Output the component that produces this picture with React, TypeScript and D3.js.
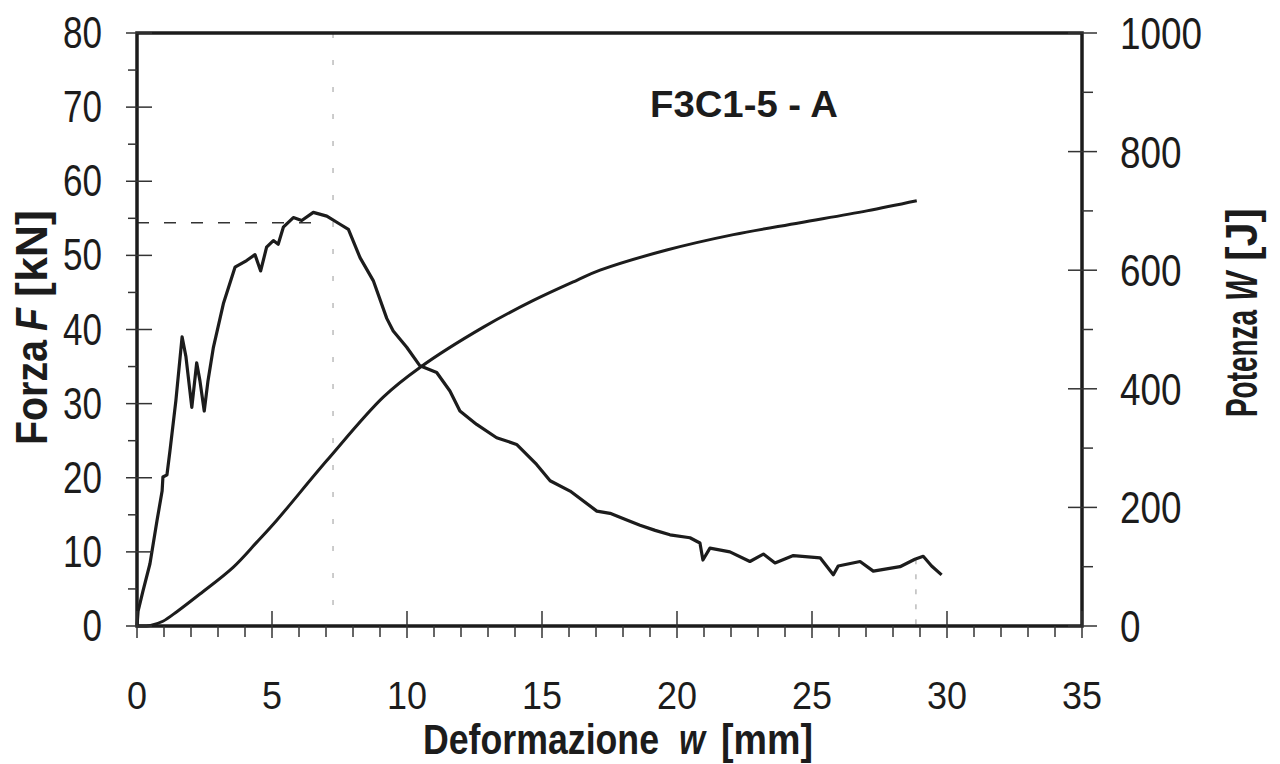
import React from 'react';
import * as d3 from 'd3';

// force curve F(w)
const forceW = [0, 0.04, 0.22, 0.48, 0.74, 0.93, 0.96, 1.11, 1.22, 1.44, 1.67, 1.81, 2.03, 2.21, 2.33, 2.49, 2.63, 2.83, 3.2, 3.63, 4.06, 4.37, 4.58, 4.8, 5.05, 5.23, 5.42, 5.79, 6.1, 6.53, 7.03, 7.52, 7.83, 8.26, 8.75, 9.25, 9.49, 9.99, 10.48, 11.1, 11.59, 11.96, 12.58, 13.32, 14.06, 14.8, 15.3, 16.04, 17.03, 17.52, 18.07, 18.63, 19.19, 19.74, 20.48, 20.85, 20.96, 21.22, 21.96, 22.7, 23.2, 23.63, 24.31, 25.3, 25.79, 25.97, 26.78, 27.27, 28.26, 28.81, 29.12, 29.43, 29.8];
const forceF = [0, 2.0, 4.7, 8.4, 14.2, 18.2, 20.1, 20.4, 23.6, 30.4, 39.0, 36.4, 29.5, 35.5, 33.1, 29.0, 33.1, 37.6, 43.5, 48.4, 49.3, 50.1, 47.9, 51.1, 52.0, 51.5, 53.8, 55.1, 54.7, 55.8, 55.3, 54.2, 53.5, 49.7, 46.6, 41.5, 39.8, 37.6, 35.1, 34.2, 31.7, 29.0, 27.2, 25.4, 24.5, 21.8, 19.6, 18.2, 15.5, 15.2, 14.4, 13.6, 12.9, 12.3, 11.9, 11.2, 8.9, 10.5, 10.0, 8.7, 9.7, 8.5, 9.5, 9.2, 6.9, 8.1, 8.7, 7.4, 8.0, 9.0, 9.4, 8.1, 6.9];

// energy curve W(w)
const workW = [0, 0.5, 0.96, 1.5, 2.33, 3.56, 4.43, 5.17, 7.03, 9.12, 10.48, 12.83, 14.68, 16.29, 17.15, 19.62, 22.09, 24.56, 27.03, 28.88];
const workJ = [0, 1, 8, 25, 54, 99, 141, 178, 279, 386, 436, 504, 549, 583, 600, 634, 660, 680, 700, 717];

const xTicks = [0, 5, 10, 15, 20, 25, 30, 35];
const fTicks = [0, 10, 20, 30, 40, 50, 60, 70, 80];
const wTicks = [0, 200, 400, 600, 800, 1000];

// dotted reference lines drawn on the original
const peakRef = { w: 6.7, f: 54.4 };
const maxRefW = 7.26;
const endRef = { w: 28.85, f: 9.0 };

const FONT = '"Liberation Sans", Arial, Helvetica, sans-serif';
const INK = '#1c1c1c';

// one piece of a squeezed label: text, start position along the baseline, length
type Piece = { t: string; at: number; len: number; italic?: boolean };

const xTitle: Piece[] = [
  { t: 'Deformazione', at: 423, len: 236 },
  { t: 'w', at: 679, len: 26, italic: true },
  { t: '[mm]', at: 721, len: 92 },
];
const fTitle: Piece[] = [
  { t: 'Forza', at: 445, len: 105 },
  { t: 'F', at: 331, len: 23, italic: true },
  { t: '[kN]', at: 297, len: 87 },
];
const wTitle: Piece[] = [
  { t: 'Potenza', at: 417, len: 107 },
  { t: 'W', at: 301, len: 29, italic: true },
  { t: '[J]', at: 261, len: 53 },
];

const App: React.FC = () => {
  const left = 137, right = 1082, top = 33, bottom = 626;

  const x = d3.scaleLinear().domain([0, 35]).range([left, right]);
  const yF = d3.scaleLinear().domain([0, 80]).range([bottom, top]);
  const yW = d3.scaleLinear().domain([0, 1000]).range([bottom, top]);

  const fPath = d3.line<number>()
    .x((_, i) => x(forceW[i]))
    .y(d => yF(d))(forceF) || '';

  const wPath = d3.line<number>()
    .x((_, i) => x(workW[i]))
    .y(d => yW(d))
    .curve(d3.curveCatmullRom.alpha(0.5))(workJ) || '';

  const minorX = d3.range(0, 36, 1).filter(v => v % 5 !== 0);
  const minorF = d3.range(5, 80, 10);
  const minorW = d3.range(100, 1000, 200);

  const vertical = (pieces: Piece[], base: number, key: string) =>
    pieces.map(p => (
      <text key={key + p.t} transform={`translate(${base},${p.at}) rotate(-90)`} fontSize={44}
        fontWeight="bold" fontStyle={p.italic ? 'italic' : 'normal'} fill={INK}
        textLength={p.len} lengthAdjust="spacingAndGlyphs">{p.t}</text>
    ));

  return (
    <svg width={1280} height={764} style={{ position: 'absolute', left: 0, top: 0, background: '#fff' }}
      fontFamily={FONT}>
      <rect width={1280} height={764} fill="#fff" />

      {/* reference lines */}
      <line x1={left} x2={x(peakRef.w)} y1={yF(peakRef.f)} y2={yF(peakRef.f)}
        stroke="#333" strokeWidth={1.5} strokeDasharray="12 15" />
      <line x1={x(maxRefW)} x2={x(maxRefW)} y1={top} y2={bottom}
        stroke="#999" strokeWidth={1} strokeDasharray="5 22" />
      <line x1={x(endRef.w)} x2={x(endRef.w)} y1={yF(endRef.f)} y2={bottom}
        stroke="#999" strokeWidth={1} strokeDasharray="5 10" />

      {/* curves */}
      <path d={wPath} fill="none" stroke={INK} strokeWidth={3} strokeLinejoin="round" />
      <path d={fPath} fill="none" stroke={INK} strokeWidth={3.2} strokeLinejoin="round" />

      {/* frame */}
      <rect x={left} y={top} width={right - left} height={bottom - top}
        fill="none" stroke={INK} strokeWidth={3.5} />

      {/* bottom ticks */}
      {minorX.map(v => (
        <line key={'mx' + v} x1={x(v)} x2={x(v)} y1={bottom} y2={bottom + 11} stroke="#333" strokeWidth={1.5} />
      ))}
      {xTicks.map(v => (
        <line key={'Mx' + v} x1={x(v)} x2={x(v)} y1={bottom - 15} y2={bottom + 12} stroke="#333" strokeWidth={1.5} />
      ))}
      {xTicks.map(v => (
        <text key={'lx' + v} x={x(v)} y={709} textAnchor="middle" fontSize={38} fill={INK}
          textLength={String(v).length * 20} lengthAdjust="spacingAndGlyphs">{v}</text>
      ))}

      {/* left ticks */}
      {minorF.map(v => (
        <line key={'mf' + v} x1={left - 9} x2={left} y1={yF(v)} y2={yF(v)} stroke="#333" strokeWidth={1.5} />
      ))}
      {fTicks.map(v => (
        <line key={'Mf' + v} x1={left - 11} x2={left + 15} y1={yF(v)} y2={yF(v)} stroke="#333" strokeWidth={1.5} />
      ))}
      {fTicks.map(v => (
        <text key={'lf' + v} x={102} y={yF(v) + 15} textAnchor="end" fontSize={45} fill={INK}
          textLength={String(v).length * 19.5} lengthAdjust="spacingAndGlyphs">{v}</text>
      ))}

      {/* right ticks */}
      {minorW.map(v => (
        <line key={'mw' + v} x1={right} x2={right + 11} y1={yW(v)} y2={yW(v)} stroke="#333" strokeWidth={1.5} />
      ))}
      {wTicks.map(v => (
        <line key={'Mw' + v} x1={right - 14} x2={right + 15} y1={yW(v)} y2={yW(v)} stroke="#333" strokeWidth={1.5} />
      ))}
      {wTicks.map(v => (
        <text key={'lw' + v} x={1120} y={yW(v) + 16} textAnchor="start" fontSize={45} fill={INK}
          textLength={String(v).length * 20.5} lengthAdjust="spacingAndGlyphs">{v}</text>
      ))}

      {/* titles */}
      <text x={744} y={117} textAnchor="middle" fontSize={37} fontWeight="bold" fill={INK}
        textLength={188} lengthAdjust="spacingAndGlyphs">F3C1-5 - A</text>

      {xTitle.map(p => (
        <text key={'xt' + p.t} x={p.at} y={754} fontSize={42} fontWeight="bold"
          fontStyle={p.italic ? 'italic' : 'normal'} fill={INK}
          textLength={p.len} lengthAdjust="spacingAndGlyphs">{p.t}</text>
      ))}
      {vertical(fTitle, 47, 'ft')}
      {vertical(wTitle, 1257, 'wt')}
    </svg>
  );
};

export default App;
